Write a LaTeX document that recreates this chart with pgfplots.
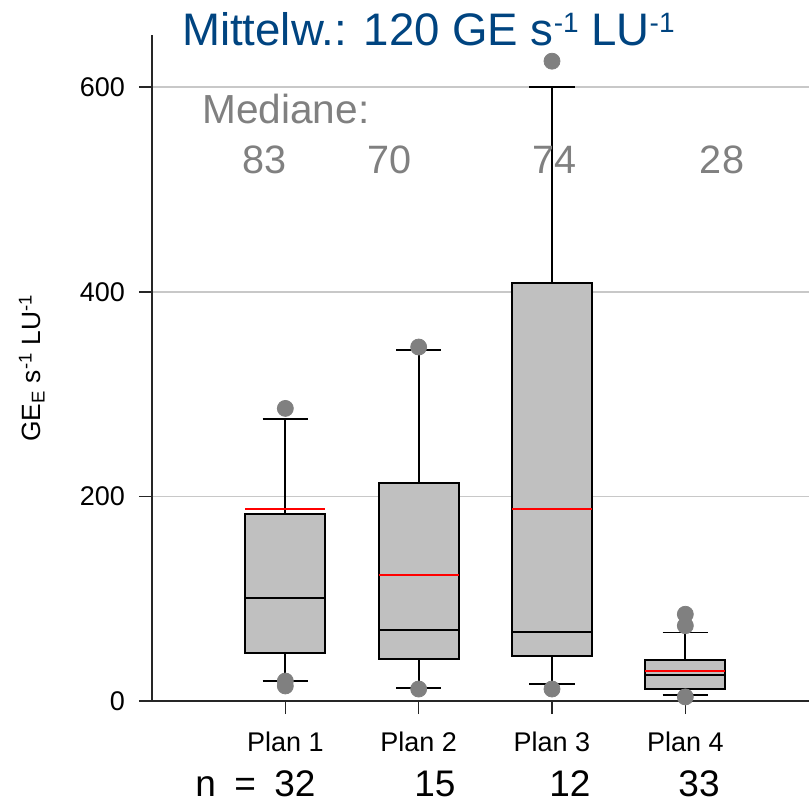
\documentclass[border=0pt]{standalone}
\usepackage{pgfplots}
\pgfplotsset{compat=1.18}
\usepackage{fontspec}
\setmainfont{Liberation Sans}
\definecolor{titleblue}{RGB}{0,68,128}
\definecolor{txtgray}{RGB}{128,128,128}
\definecolor{boxgray}{RGB}{192,192,192}
\definecolor{gridgray}{RGB}{200,200,200}
\pgfplotsset{
 boxsty/.style={fill=boxgray, draw=black, line width=1.1pt, line cap=rect, line join=miter},
 linsty/.style={black, line width=1pt},
 whisty/.style={black, line width=0.85pt},
 meansty/.style={red, line width=1pt},
}
\newcommand{\tsup}[1]{\raisebox{6.8pt}{\fontsize{14}{15}\selectfont #1}}
\begin{document}
\begin{tikzpicture}
\begin{axis}[
 name=ax,
 scale only axis, width=328.5pt, height=333pt,
 xmin=0, xmax=4.9275, ymin=0, ymax=651,
 axis x line=bottom, axis y line=left,
 axis line style={-, line width=0.9pt, color=black!85},
 xtick={1,2,3,4}, xticklabels={Plan 1,Plan 2,Plan 3,Plan 4},
 ytick={0,200,400,600},
 tick align=outside, major tick length=6.5pt,
 tick style={line width=0.75pt, color=black!85},
 ymajorgrids, grid style={line width=0.75pt, gridgray},
 clip=false,
 /pgf/number format/assume math mode=true,
 ticklabel style={font=\fontsize{13.5}{15}\selectfont},
 yticklabel style={xshift=-3.5pt},
 xticklabel style={yshift=-5.5pt},
 ylabel={GE\textsubscript{E} s\textsuperscript{-1} LU\textsuperscript{-1}},
 ylabel style={at={(axis description cs:-0.183,0.5)}, anchor=center, font=\fontsize{13.2}{15}\selectfont},
]
% outliers
\addplot[only marks, mark=*, mark size=4pt, color=txtgray] coordinates {
 (1,286) (1,19.5) (1,14.7) (2,346) (2,11.7) (3,625.4) (3,11.7) (4,84.8) (4,73.6) (4,4)};
% Plan 1: lw 19.5, q1 46.9, med 100.7, q3 182.7, uw 275.6
\addplot[whisty] coordinates {(1,182.7) (1,275.6)};
\addplot[whisty] coordinates {(0.83,275.6) (1.17,275.6)};
\addplot[whisty] coordinates {(1,46.9) (1,19.5)};
\addplot[whisty] coordinates {(0.83,19.5) (1.17,19.5)};
\addplot[boxsty] coordinates {(0.7,46.9) (1.3,46.9) (1.3,182.7) (0.7,182.7) (0.7,46.9)};
\addplot[linsty] coordinates {(0.7,100.7) (1.3,100.7)};
% Plan 2: lw 12.7, q1 41.4, med 69.7, q3 213.3, uw 343
\addplot[whisty] coordinates {(2,213.3) (2,343)};
\addplot[whisty] coordinates {(1.83,343) (2.17,343)};
\addplot[whisty] coordinates {(2,41.4) (2,12.7)};
\addplot[whisty] coordinates {(1.83,12.7) (2.17,12.7)};
\addplot[boxsty] coordinates {(1.7,41.4) (2.3,41.4) (2.3,213.3) (1.7,213.3) (1.7,41.4)};
\addplot[linsty] coordinates {(1.7,69.7) (2.3,69.7)};
% Plan 3: lw 16.6, q1 44, med 67.4, q3 408.5, uw 600
\addplot[whisty] coordinates {(3,408.5) (3,600)};
\addplot[whisty] coordinates {(2.83,600) (3.17,600)};
\addplot[whisty] coordinates {(3,44) (3,16.6)};
\addplot[whisty] coordinates {(2.83,16.6) (3.17,16.6)};
\addplot[boxsty] coordinates {(2.7,44) (3.3,44) (3.3,408.5) (2.7,408.5) (2.7,44)};
\addplot[linsty] coordinates {(2.7,67.4) (3.3,67.4)};
% Plan 4: lw 5.9, q1 12, med 25, q3 40, uw 67
\addplot[whisty] coordinates {(4,40) (4,67)};
\addplot[whisty] coordinates {(3.83,67) (4.17,67)};
\addplot[whisty] coordinates {(4,12) (4,5.9)};
\addplot[whisty] coordinates {(3.83,5.9) (4.17,5.9)};
\addplot[boxsty] coordinates {(3.7,12) (4.3,12) (4.3,40) (3.7,40) (3.7,12)};
\addplot[linsty] coordinates {(3.7,25) (4.3,25)};
% means
\addplot[meansty] coordinates {(0.7,187.6) (1.3,187.6)};
\addplot[meansty] coordinates {(1.7,122.8) (2.3,122.8)};
\addplot[meansty] coordinates {(2.7,187.6) (3.3,187.6)};
\addplot[meansty] coordinates {(3.7,29.6) (4.3,29.6)};
% texts
\node[anchor=base west, inner sep=0, text=titleblue, font=\fontsize{22.8}{26}\selectfont] at (axis cs:0.223,640.4) {Mittelw.: 120 GE s\tsup{-1} LU\tsup{-1}};
\node[anchor=base west, inner sep=0, text=txtgray, font=\fontsize{20.3}{22}\selectfont] at (axis cs:0.375,564.8) {Mediane:};
\node[anchor=base, inner sep=0, text=txtgray, font=\fontsize{19.8}{22}\selectfont] at (axis cs:0.8475,516) {83};
\node[anchor=base, inner sep=0, text=txtgray, font=\fontsize{19.8}{22}\selectfont] at (axis cs:1.785,516) {70};
\node[anchor=base, inner sep=0, text=txtgray, font=\fontsize{19.8}{22}\selectfont] at (axis cs:3.0225,516) {74};
\node[anchor=base, inner sep=0, text=txtgray, font=\fontsize{19.8}{22}\selectfont] at (axis cs:4.275,516) {28};
\node[anchor=base west, inner sep=0, font=\fontsize{18.5}{21}\selectfont] at (axis cs:0.3225,-93.8) {n\hspace{0.5em}=};
\node[anchor=base, inner sep=0, font=\fontsize{18.5}{21}\selectfont] at (axis cs:1.0725,-93.8) {32};
\node[anchor=base, inner sep=0, font=\fontsize{18.5}{21}\selectfont] at (axis cs:2.1225,-93.8) {15};
\node[anchor=base, inner sep=0, font=\fontsize{18.5}{21}\selectfont] at (axis cs:3.135,-93.8) {12};
\node[anchor=base, inner sep=0, font=\fontsize{18.5}{21}\selectfont] at (axis cs:4.1025,-93.8) {33};
\end{axis}
\pgfresetboundingbox
\path[use as bounding box] ([xshift=-76pt, yshift=-51pt]ax.south west) rectangle ([yshift=17.5pt]ax.north east);
\end{tikzpicture}
\end{document}
